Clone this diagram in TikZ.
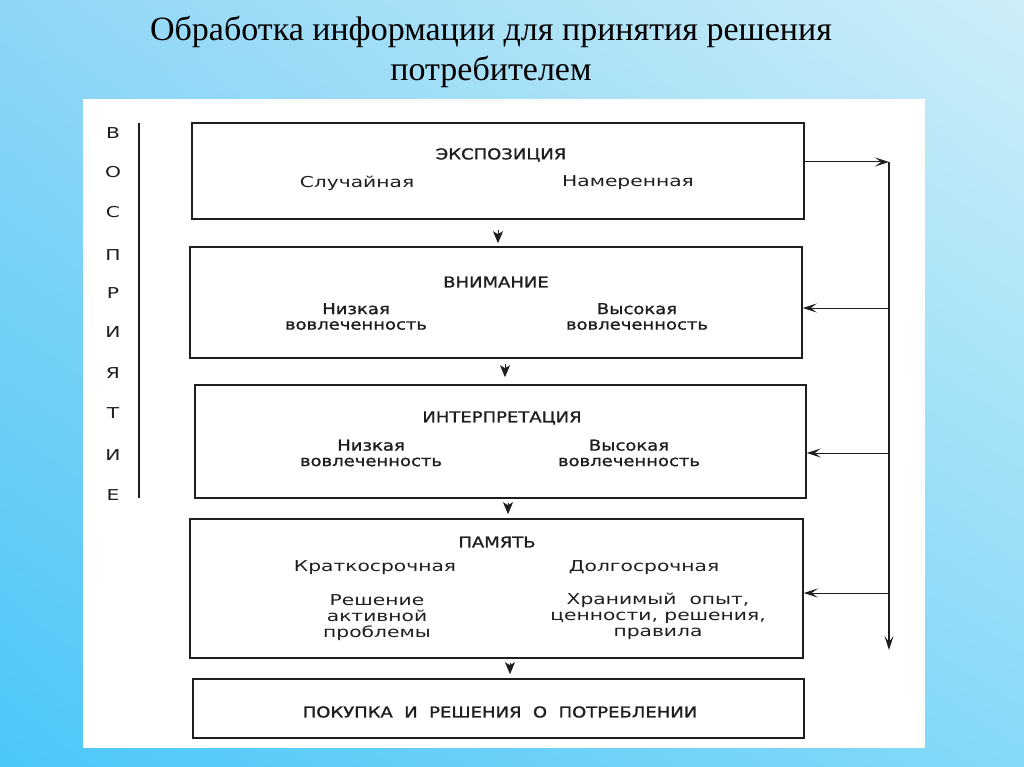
\documentclass[tikz,border=0pt]{standalone}
\usepackage{fontspec}
\setmainfont{Liberation Serif}
\newfontfamily\gothic[FakeStretch=1.35]{DejaVu Sans}
\newfontfamily\gothicb[FakeStretch=1.2,FakeBold=1.2]{DejaVu Sans}
\usetikzlibrary{arrows.meta,shadings}
\definecolor{bgUL}{HTML}{8ED6F6}
\definecolor{bgUR}{HTML}{CDEEF8}
\definecolor{bgLL}{HTML}{4CC7F8}
\definecolor{bgLR}{HTML}{86D9F8}
\definecolor{ink}{HTML}{1E1E1E}
\begin{document}
\begin{tikzpicture}[x=1pt,y=-1pt,
  stage/.style={draw=ink, line width=1.6pt, fill=white, inner sep=0pt},
  txt/.style={text=ink, font=\gothic\fontsize{15}{16}\selectfont, align=center, inner sep=0pt},
  hdr/.style={text=ink, font=\gothicb\fontsize{15}{16}\selectfont, align=center, inner sep=0pt},
  bld/.style={text=ink, font=\gothicb\fontsize{15}{15.5}\selectfont, align=center, inner sep=0pt},
  side/.style={text=ink, font=\gothic\fontsize{15}{15}\selectfont, inner sep=0pt},
  downflow/.style={draw=ink, line width=1pt, -{Stealth[length=12pt,width=10pt,inset=3pt]}},
  fbline/.style={draw=ink, line width=1pt, -{Stealth[length=14pt,width=9pt,inset=6pt]}},
  titlefont/.style={font=\fontsize{34}{40}\selectfont, align=center, inner sep=0pt}
]
\useasboundingbox (0,0) rectangle (1024,767);
\shade[upper left=bgUL, upper right=bgUR, lower left=bgLL, lower right=bgLR] (0,0) rectangle (1024,767);
\fill[white] (83,99) rectangle (925,748);

% title
\node[titlefont] (title) at (491,52) {Обработка информации для принятия решения\\потребителем};

% left bracket
\draw[ink, line width=1.6pt] (139,123) -- (139,498);
\foreach \ch/\yy/\nm in {В/133/s1, О/172/s2, С/212/s3, П/255/s4, Р/293/s5, И/332/s6, Я/373/s7, Т/413/s8, И/455/s9, Е/495/s10}
  \node[side] (\nm) at (113,\yy) {\ch};

% boxes
\node[stage, minimum width=612pt, minimum height=96pt] (b1) at (498,171) {};
\node[stage, minimum width=612pt, minimum height=111pt] (b2) at (496,302.5) {};
\node[stage, minimum width=611pt, minimum height=113pt] (b3) at (500.5,441.5) {};
\node[stage, minimum width=613pt, minimum height=139pt] (b4) at (496.5,588.5) {};
\node[stage, minimum width=611pt, minimum height=59pt] (b5) at (498.5,708.5) {};

% box 1
\node[hdr] (h1) at (501,155) {ЭКСПОЗИЦИЯ};
\node[txt] (t1a) at (357,183) {Случайная};
\node[txt] (t1b) at (628,183) {Намеренная};
% box 2
\node[hdr] (h2) at (496,282) {ВНИМАНИЕ};
\node[bld] (t2a) at (356,316.5) {Низкая\\вовлеченность};
\node[bld] (t2b) at (637,316.5) {Высокая\\вовлеченность};
% box 3
\node[hdr] (h3) at (502,418) {ИНТЕРПРЕТАЦИЯ};
\node[bld] (t3a) at (371,453) {Низкая\\вовлеченность};
\node[bld] (t3b) at (629,453) {Высокая\\вовлеченность};
% box 4
\node[hdr] (h4) at (497,542) {ПАМЯТЬ};
\node[txt] (t4a) at (375,568) {Краткосрочная};
\node[txt] (t4b) at (644,568) {Долгосрочная};
\node[txt] (t4c) at (377,618) {Решение\\активной\\проблемы};
\node[txt] (t4d) at (658,616) {Хранимый~~опыт,\\ценности, решения,\\правила};
% box 5
\node[hdr] (h5) at (500,712) {ПОКУПКА~~И~~РЕШЕНИЯ~~О~~ПОТРЕБЛЕНИИ};

% down arrows
\coordinate (d1) at (498,0);
\coordinate (d2) at (505,0);
\coordinate (d3) at (508,0);
\coordinate (d4) at (510,0);
\draw[downflow, shorten <=10pt, shorten >=3pt] (b1.south -| d1) -- (b2.north -| d1);
\draw[downflow, shorten <=5pt, shorten >=7pt] (b2.south -| d2) -- (b3.north -| d2);
\draw[downflow, shorten <=4pt, shorten >=4pt] (b3.south -| d3) -- (b4.north -| d3);
\draw[downflow, shorten <=4pt, shorten >=4pt] (b4.south -| d4) -- (b5.north -| d4);

% feedback loop
\coordinate (r1) at (889,162);
\coordinate (r2) at (889,308);
\coordinate (r3) at (889,453);
\coordinate (r4) at (889,593);
\coordinate (rend) at (889,650);
\draw[fbline] (b1.east |- r1) -- (r1);
\draw[fbline, line width=1.3pt] (r1) -- (rend);
\draw[fbline] (r2) -- (b2.east |- r2);
\draw[fbline] (r3) -- (b3.east |- r3);
\draw[fbline] (r4) -- (b4.east |- r4);
\end{tikzpicture}
\end{document}
